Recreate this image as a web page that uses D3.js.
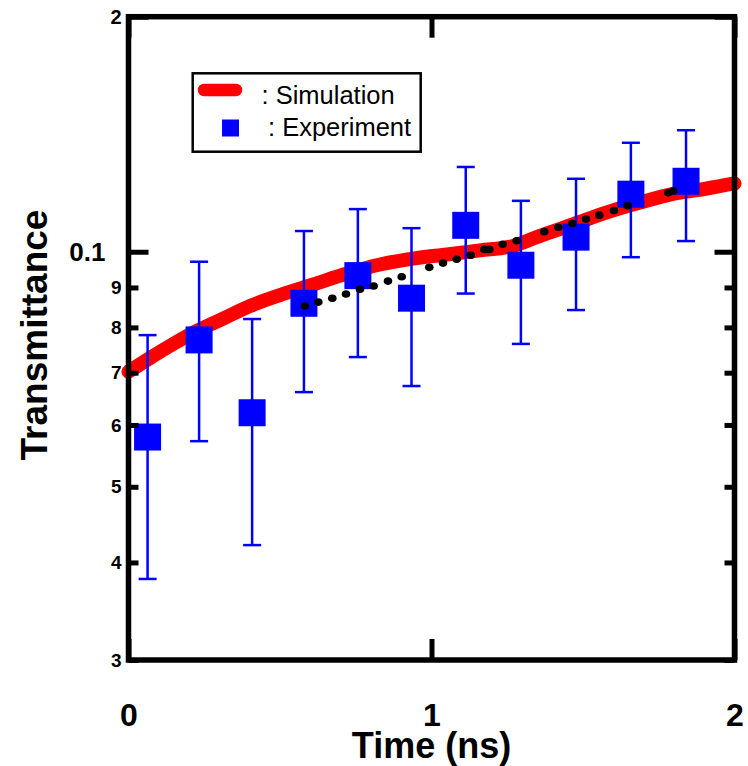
<!DOCTYPE html>
<html>
<head>
<meta charset="utf-8">
<script src="https://cdn.jsdelivr.net/npm/d3@7"></script>
<style>
    body { margin: 0; background: #fff; }
    svg { display: block; font-family: "Liberation Sans", Arial, sans-serif; }
</style>
</head>
<body>
<div id="chart"></div>
<script>
// Experiment (blue squares with error bars)
const expTime  = [0.063, 0.233, 0.408, 0.579, 0.757, 0.934, 1.113, 1.295, 1.477, 1.658, 1.840];
const expValue = [0.0579, 0.0771, 0.0622, 0.0859, 0.0932, 0.0872, 0.1081, 0.0961, 0.1044, 0.1185, 0.1231];
const expUpper = [0.0782, 0.0971, 0.0820, 0.1063, 0.1134, 0.1072, 0.1284, 0.1162, 0.1240, 0.1379, 0.1431];
const expLower = [0.0381, 0.0572, 0.0421, 0.0661, 0.0733, 0.0673, 0.0884, 0.0762, 0.0842, 0.0984, 0.1032];

// Simulation (thick red curve)
const simTime  = [0, 0.071, 0.153, 0.226, 0.318, 0.401, 0.5, 0.609, 0.721, 0.83, 0.939, 1.051, 1.16, 1.269, 1.358, 1.467, 1.579, 1.688, 1.797, 1.909, 2.0];
const simValue = [0.0702, 0.0731, 0.0764, 0.0792, 0.0823, 0.0852, 0.0880, 0.0908, 0.0938, 0.0963, 0.0980, 0.0992, 0.1004, 0.1017, 0.1048, 0.1084, 0.1123, 0.1156, 0.1186, 0.1205, 0.1223];

// black dotted trace
const dotTime  = [0.5825, 0.6264, 0.6726, 0.7178, 0.7640, 0.8092, 0.8564, 0.9017, 0.9927, 1.0380, 1.0832, 1.1294, 1.1743, 1.1908, 1.2350, 1.2812, 1.3723, 1.4185, 1.4647, 1.5099, 1.5538, 1.6023, 1.6475, 1.7815, 1.7980];
const dotValue = [0.0852, 0.0862, 0.0872, 0.0883, 0.0895, 0.0904, 0.0917, 0.0929, 0.0955, 0.0967, 0.0978, 0.0990, 0.1007, 0.1007, 0.1022, 0.1033, 0.1061, 0.1075, 0.1087, 0.1101, 0.1114, 0.1129, 0.1145, 0.1190, 0.1196];

// ticks
const xTicks = [0, 1, 2];
const yMajorTicks = [0.1, 0.2];
const yMajorLabels = ["0.1", "2"];
const yMinorTicks = [0.03, 0.04, 0.05, 0.06, 0.07, 0.08, 0.09];
const yMinorLabels = ["3", "4", "5", "6", "7", "8", "9"];

const width = 748, height = 766;
const plotLeft = 128.5, plotRight = 734.5, plotTop = 16.7, plotBottom = 660;

const svg = d3.select("#chart").append("svg")
    .attr("width", width)
    .attr("height", height);

const x = d3.scaleLinear().domain([0, 2]).range([plotLeft, plotRight]);
const y = d3.scaleLog().domain([0.03, 0.2]).range([plotBottom, plotTop]);

// simulation curve
const simData = simTime.map((t, i) => ({ t: t, v: simValue[i] }));
svg.append("path")
    .datum(simData)
    .attr("fill", "none")
    .attr("stroke", "#ff0000")
    .attr("stroke-width", 14)
    .attr("stroke-linecap", "round")
    .attr("stroke-linejoin", "round")
    .attr("d", d3.line().x(d => x(d.t)).y(d => y(d.v)).curve(d3.curveMonotoneX));

// error bars
const expData = expTime.map((t, i) => ({ t: t, v: expValue[i], hi: expUpper[i], lo: expLower[i] }));
const err = svg.append("g")
    .attr("stroke", "#0000ff")
    .attr("stroke-width", 2.5);

err.selectAll(".stem").data(expData).enter().append("line")
    .attr("x1", d => x(d.t)).attr("x2", d => x(d.t))
    .attr("y1", d => y(d.hi)).attr("y2", d => y(d.lo));
err.selectAll(".capHi").data(expData).enter().append("line")
    .attr("x1", d => x(d.t) - 9).attr("x2", d => x(d.t) + 9)
    .attr("y1", d => y(d.hi)).attr("y2", d => y(d.hi));
err.selectAll(".capLo").data(expData).enter().append("line")
    .attr("x1", d => x(d.t) - 9).attr("x2", d => x(d.t) + 9)
    .attr("y1", d => y(d.lo)).attr("y2", d => y(d.lo));

// squares
const sq = 27;
svg.append("g").selectAll("rect").data(expData).enter().append("rect")
    .attr("x", d => x(d.t) - sq / 2)
    .attr("y", d => y(d.v) - sq / 2)
    .attr("width", sq).attr("height", sq)
    .attr("fill", "#0000ff");

// black dots
svg.append("g").selectAll("ellipse").data(dotTime).enter().append("ellipse")
    .attr("cx", d => x(d))
    .attr("cy", (d, i) => y(dotValue[i]))
    .attr("rx", 4.3).attr("ry", 3.8)
    .attr("fill", "#000");

// axes (ticks pointing inward)
function styleAxis(g) {
    g.attr("font-family", null).attr("font-size", null);
    g.select(".domain").remove();
    g.selectAll(".tick line").attr("stroke", "#000").attr("stroke-width", 5);
    g.selectAll(".tick text").attr("fill", "#000").attr("font-weight", "bold");
}

const yMajor = svg.append("g")
    .attr("transform", `translate(${plotLeft},0)`)
    .call(d3.axisLeft(y).tickValues(yMajorTicks).tickSize(-20).tickPadding(23)
        .tickFormat((d, i) => yMajorLabels[i]))
    .call(styleAxis);
yMajor.selectAll(".tick text")
    .style("font-size", (d, i) => i === 0 ? "26px" : "20px")
    .attr("x", (d, i) => i === 0 ? -23 : -7);

svg.append("g")
    .attr("transform", `translate(${plotLeft},0)`)
    .call(d3.axisLeft(y).tickValues(yMinorTicks).tickSize(-10).tickPadding(7)
        .tickFormat((d, i) => yMinorLabels[i]))
    .call(styleAxis)
    .selectAll(".tick text").style("font-size", "19px");

svg.append("g")
    .attr("transform", `translate(${plotRight},0)`)
    .call(d3.axisRight(y).tickValues(yMajorTicks).tickSize(-20).tickFormat(""))
    .call(styleAxis);
svg.append("g")
    .attr("transform", `translate(${plotRight},0)`)
    .call(d3.axisRight(y).tickValues(yMinorTicks).tickSize(-10).tickFormat(""))
    .call(styleAxis);

svg.append("g")
    .attr("transform", `translate(0,${plotBottom})`)
    .call(d3.axisBottom(x).tickValues(xTicks).tickSize(-21).tickPadding(43).tickFormat(d3.format("d")))
    .call(styleAxis)
    .selectAll(".tick text").style("font-size", "32px");

svg.append("g")
    .attr("transform", `translate(0,${plotTop})`)
    .call(d3.axisTop(x).tickValues(xTicks).tickSize(-21).tickFormat(""))
    .call(styleAxis);

// frame
svg.append("rect")
    .attr("x", plotLeft).attr("y", plotTop)
    .attr("width", plotRight - plotLeft).attr("height", plotBottom - plotTop)
    .attr("fill", "none")
    .attr("stroke", "#000")
    .attr("stroke-width", 5.5);

// axis titles
svg.append("text")
    .attr("x", (plotLeft + plotRight) / 2).attr("y", 758)
    .attr("text-anchor", "middle")
    .attr("font-size", 36).attr("font-weight", "bold")
    .text("Time (ns)");

svg.append("text")
    .attr("transform", "translate(47,335) rotate(-90)")
    .attr("text-anchor", "middle")
    .attr("font-size", 37).attr("font-weight", "bold")
    .text("Transmittance");

// legend
const legend = svg.append("g");
legend.append("rect")
    .attr("x", 192.7).attr("y", 73.3)
    .attr("width", 228).attr("height", 78.4)
    .attr("fill", "#fff")
    .attr("stroke", "#000").attr("stroke-width", 2.5);
legend.append("line")
    .attr("x1", 204).attr("x2", 236).attr("y1", 90).attr("y2", 90)
    .attr("stroke", "#ff0000").attr("stroke-width", 12.5).attr("stroke-linecap", "round");
legend.append("text")
    .attr("x", 261.5).attr("y", 104.3)
    .attr("font-size", 25.5)
    .text(": Simulation");
legend.append("rect")
    .attr("x", 222).attr("y", 119.5).attr("width", 17).attr("height", 17)
    .attr("fill", "#0000ff");
legend.append("text")
    .attr("x", 268).attr("y", 136)
    .attr("font-size", 25.5)
    .text(": Experiment");
</script>
</body>
</html>
